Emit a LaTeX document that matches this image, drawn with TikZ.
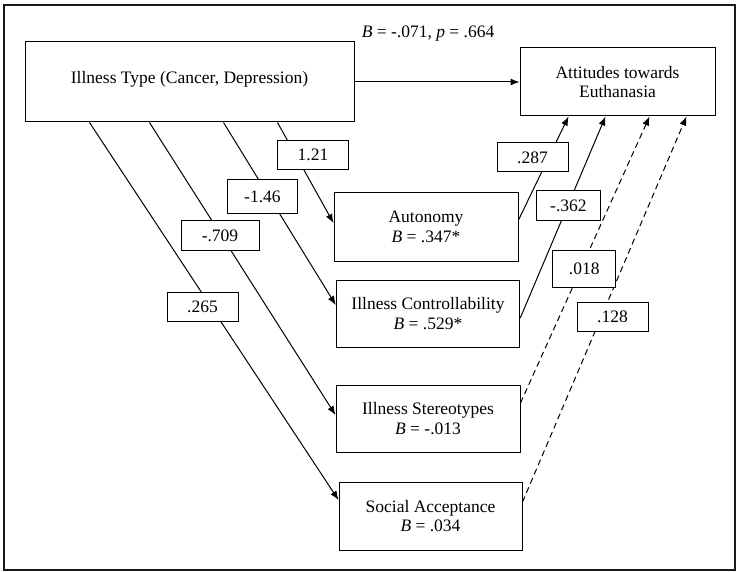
\documentclass[tikz,border=0pt]{standalone}
\usepackage{fontspec}
\setmainfont{Liberation Serif}
\usetikzlibrary{arrows.meta,calc}
\tikzset{
  box/.style={draw, line width=1pt, inner sep=0pt, align=center,
    font=\fontsize{17.5}{19.5}\selectfont},
  lbl/.style={draw, fill=white, line width=1pt, inner sep=0pt,
    font=\fontsize{17.5}{19.5}\selectfont},
  conn/.style={line width=1pt, -{Latex[length=9pt,width=7pt]}},
  dconn/.style={conn, dash pattern=on 6pt off 4pt},
}
\begin{document}
\begin{tikzpicture}[x=1pt,y=-1pt]
\useasboundingbox (0,0) rectangle (739,572);
\draw[line width=2.2pt, draw=black!90] (4,5) rectangle (735,570);

\node[box, minimum width=329pt, minimum height=80pt] (it) at (189.5,82)
  {\raisebox{3pt}[\height][\depth]{Illness Type (Cancer, Depression)}};
\node[box, minimum width=195pt, minimum height=68pt] (att) at (617.5,82)
  {Attitudes towards\\Euthanasia};
\node[box, minimum width=184pt, minimum height=68pt] (aut) at (426,227)
  {Autonomy\\\textit{B} = .347*};
\node[box, minimum width=183.5pt, minimum height=67pt] (ctl) at (428,313.5)
  {Illness Controllability\\\textit{B} = .529*};
\node[box, minimum width=184pt, minimum height=67pt] (ste) at (428,418.5)
  {Illness Stereotypes\\\textit{B} = -.013};
\node[box, minimum width=183pt, minimum height=68pt] (soc) at (430.5,516)
  {Social Acceptance\\\textit{B} = .034};

\node[font=\fontsize{17.5}{19.5}\selectfont] (top) at (428,34)
  {\textit{B} = -.071, \textit{p} = .664};

% direct effect
\draw[conn] (it.east) -- (att.west);

% paths a
\draw[conn] ($(it.south west)+(253,0)$) -- ($(aut.west)+(0,-4)$);
\draw[conn] ($(it.south west)+(199,0)$) -- ($(ctl.west)+(0,-8.5)$);
\draw[conn] ($(it.south west)+(125,0)$) -- ($(ste.west)+(0,-3.5)$);
\draw[conn] ($(it.south west)+(65,0)$) -- ($(soc.west)+(0,-16)$);

% paths b
\draw[conn] ($(aut.east)+(0,-7)$) -- ($(att.south west)+(49,0)$);
\draw[conn] ($(ctl.east)+(0,4.5)$) -- ($(att.south west)+(86,0)$);
\draw[dconn] ($(ste.east)+(0,-15.5)$) -- ($(att.south west)+(130,0)$);
\draw[dconn] ($(soc.east)+(0,-14)$) -- ($(att.south west)+(167,0)$);

% labels
\node[lbl, minimum width=71.5pt, minimum height=29.5pt] (l121) at (313,155) {1.21};
\node[lbl, minimum width=70.7pt, minimum height=34pt] (l146) at (262.4,197) {-1.46};
\node[lbl, minimum width=78pt, minimum height=30pt] (l709) at (220,236) {-.709};
\node[lbl, minimum width=71pt, minimum height=29pt] (l265) at (202.5,307) {.265};
\node[lbl, minimum width=71pt, minimum height=29pt] (l287) at (532.5,157.5) {.287};
\node[lbl, minimum width=63.3pt, minimum height=30pt] (l362) at (568.4,206) {-.362};
\node[lbl, minimum width=63.3pt, minimum height=36pt] (l018) at (584.3,269) {.018};
\node[lbl, minimum width=71pt, minimum height=29pt] (l128) at (612.5,316.5) {.128};
\end{tikzpicture}
\end{document}
